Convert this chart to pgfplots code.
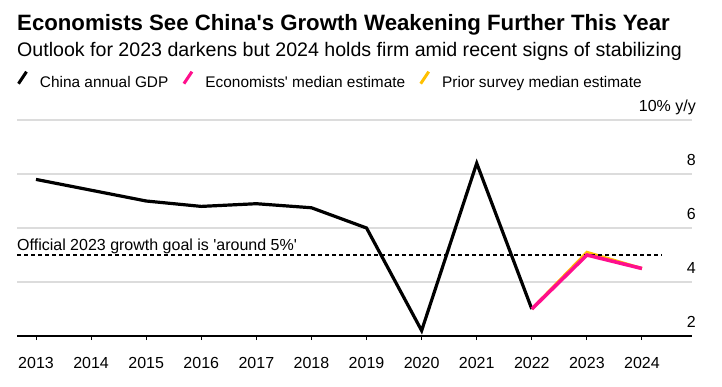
\documentclass[border=0pt]{standalone}
\usepackage{pgfplots}
\pgfplotsset{compat=1.18}
\usepackage{fontspec}
\setmainfont{Liberation Sans}[Ligatures=TeXOff]
\definecolor{bpink}{HTML}{FF0F8C}
\definecolor{byellow}{HTML}{FFC000}
\definecolor{gridgray}{HTML}{DCDCDC}
\begin{document}
\begin{tikzpicture}
\useasboundingbox (0,0) rectangle (722pt,386pt);
\node[anchor=base west, inner sep=0pt, font=\fontsize{22.2}{26}\selectfont\bfseries] at (17pt,355pt) {Economists See China's Growth Weakening Further This Year};
\node[anchor=base west, inner sep=0pt, font=\fontsize{19.6}{23}\selectfont] at (17pt,329pt) {Outlook for 2023 darkens but 2024 holds firm amid recent signs of stabilizing};
\begin{axis}[
  at={(17pt,50pt)}, anchor=south west,
  scale only axis, width=675pt, height=216pt,
  xmin=2012.655, xmax=2024.908, ymin=2, ymax=10,
  clip=false,
  axis x line*=bottom, axis y line*=right,
  x axis line style={black, line width=1.3pt},
  y axis line style={draw=none},
  xtick={2013,2014,2015,2016,2017,2018,2019,2020,2021,2022,2023,2024},
  xticklabels={2013,2014,2015,2016,2017,2018,2019,2020,2021,2022,2023,2024},
  ytick={2,4,6,8,10},
  yticklabels={2,4,6,8,10\% y/y},
  tick label style={font=\fontsize{16}{19}\selectfont},
  xticklabel style={anchor=base, inner sep=0pt, yshift=-28pt},
  yticklabel style={anchor=base east, inner sep=0pt, yshift=9pt},
  tick align=outside,
  xtick style={black, line width=1pt},
  major tick length=4pt,
  ytick style={draw=none},
  ymajorgrids, grid style={gridgray, line width=1.3pt},
  legend columns=3,
  legend style={draw=none, fill=none, inner sep=0pt, outer sep=0pt,
    at={(0,1)}, anchor=south west, yshift=31pt,
    font=\fontsize{15.4}{18}\selectfont,
    nodes={inner sep=0pt},
    /tikz/every odd column/.append style={column sep=12pt},
    /tikz/every even column/.append style={column sep=14pt}},
  legend image code/.code={\draw[#1, line width=3pt] (0pt,-1pt) -- (8pt,11pt);},
]
\addplot[byellow, line width=3pt, forget plot] coordinates {(2022,3.0) (2023,5.1) (2024,4.5)};
\addplot[black, line width=1.3pt, dash pattern=on 4pt off 3pt, forget plot] coordinates {(2012.655,5) (2024.36,5)};
\addplot[black, line width=3.2pt] coordinates {
(2013,7.8) (2014,7.4) (2015,7.0) (2016,6.8) (2017,6.9) (2018,6.75) (2019,6.0) (2020,2.2) (2021,8.4) (2022,3.0)};
\addlegendentry{China annual GDP}
\addplot[bpink, line width=3.6pt] coordinates {(2022,3.0) (2023,5.0) (2024,4.5)};
\addlegendentry{Economists' median estimate}
\addlegendimage{byellow, line width=3pt}
\addlegendentry{Prior survey median estimate}
\node[anchor=base west, inner sep=0pt, font=\fontsize{16}{19}\selectfont, yshift=5pt] at (axis cs:2012.655,5) {Official 2023 growth goal is 'around 5\%'};
\end{axis}
\end{tikzpicture}
\end{document}
